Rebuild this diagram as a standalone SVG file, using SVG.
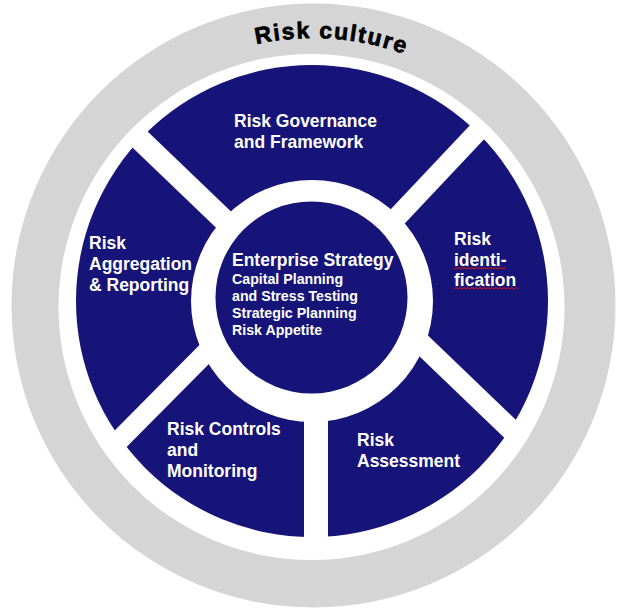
<svg xmlns="http://www.w3.org/2000/svg" xmlns:xlink="http://www.w3.org/1999/xlink" width="624" height="615" viewBox="0 0 624 615">
<style>
.lbl{fill:#ffffff;font-family:"Liberation Sans",Arial,sans-serif;font-weight:bold;font-size:17.5px}
.sub{fill:#ffffff;font-family:"Liberation Sans",Arial,sans-serif;font-weight:bold;font-size:14.2px}
.navy{fill:#161478}
.bar{stroke:#ffffff;fill:none}
.squig{stroke:#e01010;stroke-width:1;fill:none}
</style>
<defs>
<clipPath id="ringClip"><circle cx="312" cy="301" r="237"/></clipPath>
<path id="arc" d="M46,305 A267,267 0 0 1 580,305"/>
</defs>
<rect width="624" height="615" fill="#ffffff"/>
<g id="culture-ring">
<circle cx="313.5" cy="305.5" r="302" fill="#d5d5d5"/>
<circle cx="311.5" cy="307" r="253" fill="#ffffff"/>
<text font-family="'Liberation Sans',Arial,sans-serif" font-weight="bold" font-size="23" fill="#000" stroke="#000" stroke-width="0.7" text-anchor="middle"><textPath xlink:href="#arc" href="#arc" startOffset="437" textLength="150" lengthAdjust="spacing">Risk culture</textPath></text>
</g>
<g id="process-ring">
<circle class="navy" cx="312" cy="301" r="236"/>
</g>
<g id="connectors" clip-path="url(#ringClip)">
<path class="bar" stroke-width="22" d="M90,91.5 L312,304.5"/>
<path class="bar" stroke-width="20" d="M530,76 L318,301"/>
<path class="bar" stroke-width="21" d="M330,256 L580,496"/>
<path class="bar" stroke-width="20" d="M290,268 L50,510"/>
<path class="bar" stroke-width="24" d="M316,301 L316,545"/>
</g>
<circle cx="312" cy="301" r="121" fill="#ffffff"/>
<g id="enterprise-strategy">
<circle class="navy" cx="311.5" cy="297.5" r="96"/>
<text class="lbl" x="232" y="266">Enterprise Strategy</text>
<text class="sub" x="232" y="284">Capital Planning</text>
<text class="sub" x="232" y="301">and Stress Testing</text>
<text class="sub" x="232" y="318">Strategic Planning</text>
<text class="sub" x="232" y="335">Risk Appetite</text>
</g>
<g id="risk-governance">
<text class="lbl" x="234" y="127">Risk Governance</text>
<text class="lbl" x="234" y="148">and Framework</text>
</g>
<g id="risk-identification">
<text class="lbl" x="454" y="245">Risk</text>
<text class="lbl" x="454" y="266">identi-</text>
<text class="lbl" x="454" y="286">fication</text>
<path class="squig" d="M454,269 l2,-1.5 l2,1.5 l2,-1.5 l2,1.5 l2,-1.5 l2,1.5 l2,-1.5 l2,1.5 l2,-1.5 l2,1.5 l2,-1.5 l2,1.5 l2,-1.5 l2,1.5 l2,-1.5 l2,1.5 l2,-1.5 l2,1.5 l2,-1.5 l2,1.5 l2,-1.5 l2,1.5 l2,-1.5 l2,1.5 l2,-1.5 l2,1.5"/>
<path class="squig" d="M454,289 l2,-1.5 l2,1.5 l2,-1.5 l2,1.5 l2,-1.5 l2,1.5 l2,-1.5 l2,1.5 l2,-1.5 l2,1.5 l2,-1.5 l2,1.5 l2,-1.5 l2,1.5 l2,-1.5 l2,1.5 l2,-1.5 l2,1.5 l2,-1.5 l2,1.5 l2,-1.5 l2,1.5 l2,-1.5 l2,1.5 l2,-1.5 l2,1.5 l2,-1.5 l2,1.5 l2,-1.5 l2,1.5 l2,-1.5 l2,1.5"/>
</g>
<g id="risk-assessment">
<text class="lbl" x="357" y="446">Risk</text>
<text class="lbl" x="357" y="467">Assessment</text>
</g>
<g id="risk-controls">
<text class="lbl" x="167" y="435">Risk Controls</text>
<text class="lbl" x="167" y="456">and</text>
<text class="lbl" x="167" y="477">Monitoring</text>
</g>
<g id="risk-aggregation">
<text class="lbl" x="89" y="249">Risk</text>
<text class="lbl" x="89" y="270">Aggregation</text>
<text class="lbl" x="89" y="291">&amp; Reporting</text>
</g>
</svg>
